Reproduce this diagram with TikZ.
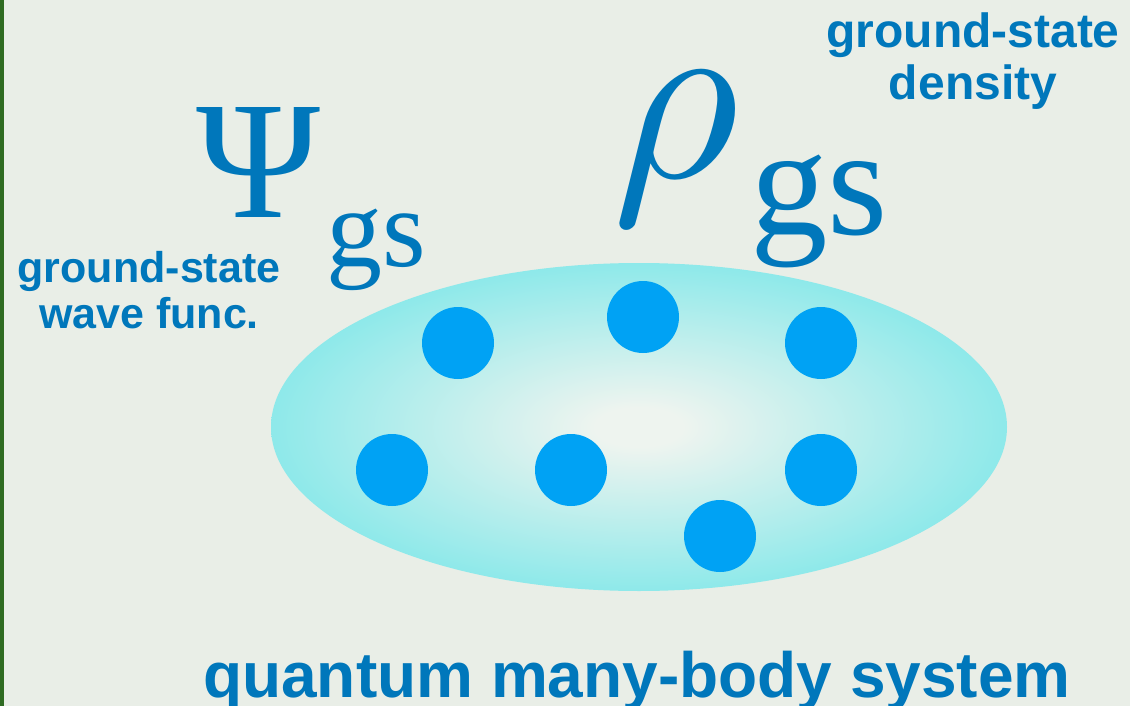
\documentclass[tikz,border=0pt]{standalone}
\usepackage{graphicx}
\usepackage{fontspec}
\setmainfont{Liberation Serif}
\newfontfamily\lsans{Liberation Sans}
\definecolor{bgc}{HTML}{E9EEE7}
\definecolor{edgegreen}{HTML}{2F6B22}
\definecolor{txtc}{HTML}{0077BB}
\definecolor{dotc}{HTML}{00A2F4}
\definecolor{cin}{HTML}{EEF4EF}
\definecolor{cout}{HTML}{8EE9EA}
\pgfdeclareradialshading{cloud}{\pgfpoint{0bp}{0bp}}{color(0bp)=(cin); color(3bp)=(cin); color(25bp)=(cout); color(50bp)=(cout)}
\tikzset{
  dot/.style={circle, fill=dotc, draw=none, minimum size=72pt, inner sep=0pt},
  sym/.style={text=txtc, inner sep=0pt, anchor=base west},
  lab/.style={text=txtc, inner sep=0pt, anchor=base, align=center, font=\lsans\bfseries},
}
\begin{document}
\begin{tikzpicture}[x=1pt,y=-1pt]
\useasboundingbox (0,0) rectangle (1130,706);
\fill[bgc] (0,0) rectangle (1130,706);
\fill[edgegreen] (0,0) rectangle (4,706);
\shade[shading=cloud] (639,427) ellipse [x radius=368pt, y radius=164pt];
% particles
\node[dot] (d1) at (458,343) {};
\node[dot] (d2) at (643,317) {};
\node[dot] (d3) at (821,343) {};
\node[dot] (d4) at (392,470) {};
\node[dot] (d5) at (571,470) {};
\node[dot] (d6) at (821,470) {};
\node[dot] (d7) at (720,536) {};
% symbols
\node[sym, font=\fontsize{168}{168}\selectfont] (psi) at (196,217) {Ψ};
\node[sym, font=\fontsize{112}{112}\selectfont] (psigs) at (326,266) {gs};
\node[sym] (rho) at (612,177) {\scalebox{24.5}{$\rho$}};
\node[sym, font=\fontsize{155}{155}\selectfont] (rhogs) at (750,234) {gs};
% labels
\node[lab, font=\lsans\bfseries\fontsize{48}{52}\selectfont] (dens) at (973,100) {ground-state\\density};
\node[lab, font=\lsans\bfseries\fontsize{43}{46}\selectfont] (wave) at (149,328) {ground-state\\wave func.};
\node[lab, font=\lsans\bfseries\fontsize{64}{64}\selectfont] (qmb) at (637,697) {quantum many-body system};
\end{tikzpicture}
\end{document}
